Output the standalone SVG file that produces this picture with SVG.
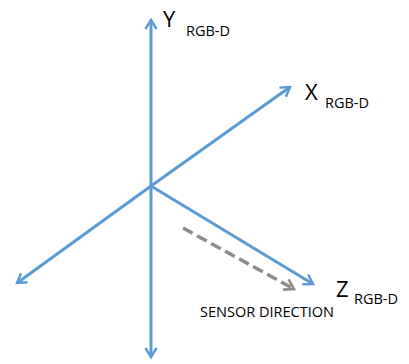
<svg xmlns="http://www.w3.org/2000/svg" width="409" height="364" viewBox="0 0 409 364">
<style>
.ax{stroke:#5B9BD5;stroke-width:3;fill:none}
.sd{stroke:#8C8C8C;stroke-width:3.5;fill:none;stroke-dasharray:11,5}
text{font-family:"Open Sans","Liberation Sans",sans-serif;fill:#000}
.big{font-size:22px}
.sub{font-size:14.5px}
.lab{font-size:14px}
</style>
<defs>
<marker id="ab" viewBox="0 0 12 12" refX="10" refY="6" markerWidth="4.5" markerHeight="4.5" orient="auto" markerUnits="strokeWidth">
<path d="M2,1 L10,6 L2,11" fill="none" stroke="#5B9BD5" stroke-width="2.2" stroke-linejoin="miter"/>
</marker>
<marker id="ag" viewBox="0 0 12 12" refX="10" refY="6" markerWidth="4" markerHeight="4" orient="auto" markerUnits="strokeWidth">
<path d="M2,1 L10,6 L2,11" fill="none" stroke="#8C8C8C" stroke-width="2.2"/>
</marker>
</defs>
<g id="connectors">
<line class="ax" x1="151" y1="186" x2="151" y2="20" marker-end="url(#ab)"/>
<line class="ax" x1="151" y1="186" x2="151" y2="357" marker-end="url(#ab)"/>
<line class="ax" x1="151" y1="186" x2="290" y2="87" marker-end="url(#ab)"/>
<line class="ax" x1="151" y1="186" x2="17" y2="283" marker-end="url(#ab)"/>
<line class="ax" x1="151" y1="186" x2="313" y2="284" marker-end="url(#ab)"/>
<line class="sd" x1="183" y1="228" x2="294" y2="289" marker-end="url(#ag)"/>
</g>
<g id="label-y"><text class="big" x="163" y="27">Y</text><text class="sub" x="186" y="36">RGB-D</text></g>
<g id="label-x"><text class="big" x="305" y="100">X</text><text class="sub" x="325" y="108">RGB-D</text></g>
<g id="label-z"><text class="big" x="336" y="297">Z</text><text class="sub" x="354" y="304">RGB-D</text></g>
<g id="label-sensor"><text class="lab" x="200" y="317" textLength="134" lengthAdjust="spacingAndGlyphs">SENSOR DIRECTION</text></g>
</svg>
